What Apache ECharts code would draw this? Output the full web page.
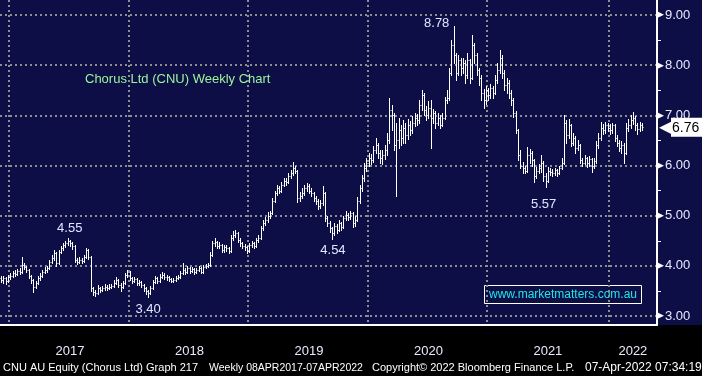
<!DOCTYPE html>
<html>
<head>
<meta charset="utf-8">
<title>Chorus Ltd (CNU) Weekly Chart</title>
<script src="https://cdn.jsdelivr.net/npm/echarts@6/dist/echarts.min.js"></script>
<style>
  html, body { margin: 0; padding: 0; background: #000; }
  #chart { width: 702px; height: 376px; }
</style>
</head>
<body>
<div id="chart"></div>
<script>
// weekly bars, rows are [open, high, low, close]
var bars2016 = [
    [3.76,3.80,3.68,3.72],[3.72,3.79,3.66,3.75],[3.75,3.78,3.64,3.70],[3.70,3.82,3.68,3.78]
];
var bars2017 = [
    [3.78,3.86,3.74,3.80],[3.80,3.90,3.77,3.86],[3.86,3.92,3.80,3.84],[3.84,3.94,3.82,3.90],
    [3.90,3.95,3.84,3.88],[3.88,4.17,3.86,4.02],[4.02,4.06,3.94,3.98],[3.98,4.00,3.88,3.92],
    [3.92,3.94,3.76,3.80],[3.80,3.82,3.66,3.72],[3.72,3.74,3.47,3.58],[3.58,3.70,3.55,3.66],
    [3.66,3.80,3.64,3.75],[3.75,3.86,3.72,3.80],[3.80,3.92,3.78,3.88],[3.88,3.97,3.85,3.92],
    [3.92,4.00,3.88,3.95],[3.95,4.12,3.93,4.08],[4.08,4.22,4.05,4.15],[4.15,4.32,4.12,4.25],
    [4.25,4.28,4.00,4.05],[4.05,4.32,4.03,4.28],[4.28,4.40,4.25,4.35],[4.35,4.46,4.32,4.42],
    [4.42,4.50,4.38,4.46],[4.46,4.55,4.42,4.50],[4.50,4.52,4.40,4.45],[4.45,4.48,4.34,4.40],
    [4.40,4.42,4.08,4.12],[4.12,4.16,4.03,4.08],[4.08,4.17,4.05,4.12],[4.12,4.15,4.06,4.10],
    [4.10,4.22,4.08,4.18],[4.18,4.36,4.15,4.32],[4.32,4.34,4.14,4.18],[4.18,4.20,3.50,3.55],
    [3.55,3.58,3.42,3.48],[3.48,3.52,3.40,3.45],[3.45,3.62,3.43,3.55],[3.55,3.58,3.48,3.52],
    [3.52,3.60,3.50,3.55],[3.55,3.63,3.52,3.58],[3.58,3.62,3.52,3.56],[3.56,3.63,3.53,3.58],
    [3.58,3.64,3.55,3.60],[3.60,3.72,3.58,3.66],[3.66,3.77,3.64,3.72],[3.72,3.74,3.58,3.62],
    [3.62,3.65,3.50,3.58],[3.58,3.70,3.55,3.65],[3.65,3.86,3.63,3.82],[3.82,3.92,3.78,3.88]
];
var bars2018 = [
    [3.88,3.90,3.72,3.76],[3.76,3.78,3.66,3.70],[3.70,3.78,3.67,3.74],[3.74,3.76,3.62,3.66],
    [3.66,3.72,3.62,3.68],[3.68,3.70,3.57,3.62],[3.62,3.64,3.50,3.55],[3.55,3.58,3.44,3.50],
    [3.50,3.52,3.38,3.45],[3.45,3.60,3.43,3.55],[3.55,3.72,3.53,3.68],[3.68,3.80,3.65,3.75],
    [3.75,3.78,3.66,3.70],[3.70,3.83,3.68,3.78],[3.78,3.87,3.75,3.82],[3.82,3.85,3.74,3.78],
    [3.78,3.82,3.72,3.77],[3.77,3.80,3.70,3.74],[3.74,3.76,3.67,3.70],[3.70,3.76,3.68,3.72],
    [3.72,3.80,3.70,3.76],[3.76,3.82,3.73,3.78],[3.78,3.90,3.76,3.85],[3.85,4.05,3.83,3.92],
    [3.92,3.96,3.84,3.88],[3.88,3.99,3.86,3.95],[3.95,3.97,3.86,3.90],[3.90,3.97,3.87,3.93],
    [3.93,3.95,3.84,3.88],[3.88,3.96,3.86,3.92],[3.92,4.00,3.90,3.96],[3.96,3.98,3.85,3.88],
    [3.88,4.02,3.86,3.98],[3.98,4.04,3.95,4.00],[4.00,4.06,3.98,4.02],[4.02,4.28,4.00,4.22],
    [4.22,4.50,4.20,4.45],[4.45,4.55,4.40,4.48],[4.48,4.50,4.35,4.40],[4.40,4.47,4.36,4.42],
    [4.42,4.44,4.27,4.32],[4.32,4.42,4.28,4.38],[4.38,4.42,4.30,4.36],[4.36,4.38,4.25,4.30],
    [4.30,4.62,4.28,4.55],[4.55,4.70,4.52,4.62],[4.62,4.72,4.58,4.65],[4.65,4.67,4.48,4.52],
    [4.52,4.55,4.40,4.45],[4.45,4.48,4.35,4.40],[4.40,4.44,4.32,4.38],[4.38,4.40,4.26,4.30]
];
var bars2019 = [
    [4.30,4.46,4.28,4.42],[4.42,4.50,4.38,4.45],[4.45,4.48,4.35,4.40],[4.40,4.56,4.38,4.52],
    [4.52,4.62,4.48,4.55],[4.55,4.80,4.53,4.75],[4.75,4.92,4.72,4.85],[4.85,4.98,4.82,4.92],
    [4.92,5.08,4.88,5.00],[5.00,5.10,4.96,5.05],[5.05,5.36,5.03,5.30],[5.30,5.50,5.27,5.45],
    [5.45,5.62,5.42,5.55],[5.55,5.60,5.45,5.50],[5.50,5.68,5.48,5.62],[5.62,5.76,5.60,5.70],
    [5.70,5.75,5.62,5.68],[5.68,5.85,5.66,5.80],[5.80,5.92,5.76,5.85],[5.85,6.07,5.82,5.95],
    [5.95,6.00,5.85,5.90],[5.90,5.92,5.28,5.35],[5.35,5.48,5.30,5.40],[5.40,5.55,5.36,5.45],
    [5.45,5.62,5.42,5.55],[5.55,5.66,5.50,5.60],[5.60,5.63,5.45,5.50],[5.50,5.55,5.40,5.45],
    [5.45,5.48,5.30,5.35],[5.35,5.40,5.24,5.30],[5.30,5.33,5.14,5.20],[5.20,5.32,5.16,5.25],
    [5.25,5.60,5.22,5.45],[5.45,5.47,4.90,4.95],[4.95,5.00,4.80,4.85],[4.85,4.90,4.68,4.75],
    [4.75,4.78,4.54,4.65],[4.65,4.86,4.62,4.80],[4.80,4.84,4.66,4.72],[4.72,4.92,4.70,4.85],
    [4.85,4.88,4.72,4.78],[4.78,5.00,4.76,4.95],[4.95,5.10,4.92,5.02],[5.02,5.06,4.92,4.98],
    [4.98,5.10,4.94,5.05],[5.05,5.07,4.78,4.85],[4.85,5.00,4.80,4.92],[4.92,5.38,4.90,5.30],
    [5.30,5.62,5.26,5.55],[5.55,5.82,5.50,5.75],[5.75,6.05,5.70,5.95],[5.95,6.15,5.90,6.05]
];
var bars2020 = [
    [6.05,6.25,6.00,6.15],[6.15,6.22,6.02,6.10],[6.10,6.38,6.06,6.30],[6.30,6.55,6.25,6.40],
    [6.40,6.45,6.15,6.25],[6.25,6.30,6.05,6.15],[6.15,6.30,6.02,6.20],[6.20,6.40,6.12,6.30],
    [6.30,6.65,6.20,6.50],[6.50,7.35,6.45,7.10],[7.10,7.20,6.70,7.00],[7.00,7.05,6.30,6.40],
    [6.40,6.85,5.40,6.50],[6.50,6.95,6.35,6.70],[6.70,6.80,6.40,6.55],[6.55,6.90,6.45,6.75],
    [6.75,6.85,6.45,6.60],[6.60,6.92,6.52,6.80],[6.80,6.88,6.60,6.70],[6.70,6.98,6.65,6.85],
    [6.85,7.05,6.78,6.95],[6.95,7.02,6.80,6.90],[6.90,7.30,6.85,7.20],[7.20,7.50,7.10,7.40],
    [7.40,7.45,7.00,7.10],[7.10,7.18,6.90,7.00],[7.00,7.28,6.95,7.15],[7.15,7.30,6.35,6.95],
    [6.95,7.12,6.85,7.05],[7.05,7.08,6.75,6.85],[6.85,7.05,6.80,6.95],[6.95,7.00,6.75,6.80],
    [6.80,7.05,6.78,6.95],[6.95,7.36,6.92,7.30],[7.30,7.50,7.25,7.35],[7.35,7.95,7.30,7.85],
    [7.85,8.50,7.80,8.40],[8.40,8.78,8.05,8.20],[8.20,8.25,7.70,7.85],[7.85,8.20,7.80,8.10],
    [8.10,8.15,7.80,7.95],[7.95,8.15,7.85,8.05],[8.05,8.10,7.65,7.80],[7.80,8.25,7.75,8.10],
    [8.10,8.12,7.65,7.75],[7.75,8.60,7.72,8.40],[8.40,8.45,8.05,8.20],[8.20,8.25,7.80,7.90],
    [7.90,7.95,7.60,7.75],[7.75,7.80,7.30,7.45],[7.45,7.52,7.15,7.30],[7.30,7.58,7.22,7.50]
];
var bars2021 = [
    [7.50,7.55,7.30,7.40],[7.40,7.62,7.35,7.55],[7.55,7.58,7.35,7.45],[7.45,7.80,7.42,7.70],
    [7.70,8.05,7.65,7.90],[7.90,8.30,7.85,8.15],[8.15,8.20,7.75,7.85],[7.85,7.90,7.50,7.60],
    [7.60,7.75,7.45,7.65],[7.65,7.70,7.35,7.45],[7.45,7.50,7.20,7.30],[7.30,7.35,6.97,7.05],
    [7.05,7.08,6.65,6.70],[6.70,6.72,6.10,6.20],[6.20,6.30,5.95,6.00],[6.00,6.07,5.85,5.95],
    [5.95,6.00,5.85,5.90],[5.90,6.37,5.88,6.20],[6.20,6.32,6.05,6.25],[6.25,6.28,6.00,6.10],
    [6.10,6.12,5.67,5.80],[5.80,5.97,5.75,5.90],[5.90,6.02,5.85,5.95],[5.95,6.20,5.88,6.05],
    [6.05,6.08,5.70,5.80],[5.80,5.85,5.57,5.70],[5.70,5.97,5.68,5.90],[5.90,5.95,5.82,5.88],
    [5.88,5.93,5.80,5.85],[5.85,5.96,5.82,5.92],[5.92,5.94,5.80,5.85],[5.85,6.00,5.83,5.95],
    [5.95,6.15,5.93,6.05],[6.05,7.00,6.02,6.85],[6.85,6.90,6.45,6.60],[6.60,6.92,6.55,6.80],
    [6.80,6.82,6.38,6.45],[6.45,6.65,6.40,6.55],[6.55,6.58,6.25,6.35],[6.35,6.50,6.30,6.40],
    [6.40,6.42,6.05,6.10],[6.10,6.15,6.00,6.05],[6.05,6.20,6.02,6.15],[6.15,6.17,5.98,6.05],
    [6.05,6.18,6.00,6.12],[6.12,6.14,5.88,6.00],[6.00,6.15,5.95,6.08],[6.08,6.48,6.05,6.40],
    [6.40,6.65,6.35,6.55],[6.55,6.87,6.50,6.75],[6.75,6.82,6.62,6.70],[6.70,6.87,6.65,6.80],
    [6.80,6.85,6.68,6.75]
];
var bars2022 = [
    [6.75,6.82,6.62,6.70],[6.70,6.85,6.65,6.80],[6.80,6.82,6.48,6.55],[6.55,6.60,6.38,6.45],
    [6.45,6.50,6.28,6.35],[6.35,6.48,6.25,6.40],[6.40,6.45,6.05,6.25],[6.25,6.85,6.22,6.75],
    [6.75,6.92,6.68,6.80],[6.80,7.00,6.75,6.90],[6.90,7.07,6.82,6.95],[6.95,6.98,6.70,6.80],
    [6.80,6.85,6.62,6.72],[6.72,6.86,6.68,6.80],[6.80,6.84,6.70,6.76]
];

// weekly categories (Fridays), a few empty weeks after the last bar
var weekCount = 286;
var weeks = [];
for (var k = 0; k < weekCount; k++) {
    weeks.push(new Date(Date.UTC(2016, 11, 9) + k * 7 * 864e5).toISOString().slice(0, 10));
}

var priceTicks = { min: 3, max: 9, step: 1 };

// callouts: [week index, price]
var callouts = [[29, 4.55], [64, 3.40], [144, 4.54], [197, 8.78], [237, 5.57]];
var calloutOffsets = [[2, -10], [0, 13], [1, 12], [-17, -3], [-2, 17]];

var footerParts = [
    "CNU AU Equity (Chorus Ltd) Graph 217",
    "Weekly 08APR2017-07APR2022",
    "Copyright\u00A9 2022 Bloomberg Finance L.P.",
    "07-Apr-2022 07:34:19"
];

var allBars = [].concat(bars2016, bars2017, bars2018, bars2019, bars2020, bars2021, bars2022);
var seriesData = allBars.map(function (b, i) { return [i, b[0], b[1], b[2], b[3]]; });
var lastClose = allBars[allBars.length - 1][3];

function yearOf(i) { return weeks[i].slice(0, 4); }
function isYearStart(i) { return i > 0 && yearOf(i) !== yearOf(i - 1); }
function isQuarterStart(i) {
    if (i === 0) return false;
    var m = weeks[i].slice(5, 7);
    return m !== weeks[i - 1].slice(5, 7) && (m === "01" || m === "04" || m === "07" || m === "10");
}
// label each year in the middle of its visible weeks
var yearMid = {};
(function () {
    var ranges = {};
    weeks.forEach(function (w, i) {
        var y = w.slice(0, 4);
        if (!ranges[y]) ranges[y] = [i, i];
        ranges[y][1] = i;
    });
    for (var y in ranges) {
        if (y === "2016") continue;
        yearMid[Math.round((ranges[y][0] + ranges[y][1]) / 2)] = y;
    }
})();

var FONT = "Liberation Sans";
var NAVY = "#0e0e47";
var dotted = { color: "#8e8e8e", width: 2, type: [2, 3] };

function renderBar(params, api) {
    var i = api.value(0);
    var o = api.coord([i, api.value(1)]);
    var h = api.coord([i, api.value(2)]);
    var l = api.coord([i, api.value(3)]);
    var c = api.coord([i, api.value(4)]);
    var x = Math.round(h[0]) + 0.5;
    var w = Math.max(1, Math.round(api.size([1, 0])[0] * 0.5));
    var st = { stroke: "#ffffff", lineWidth: 1 };
    var oy = Math.round(o[1]) + 0.5, cy = Math.round(c[1]) + 0.5;
    return {
        type: "group",
        children: [
            { type: "line", shape: { x1: x, y1: Math.round(h[1]), x2: x, y2: Math.round(l[1]) + 1 }, style: st },
            { type: "line", shape: { x1: x - w, y1: oy, x2: x, y2: oy }, style: st },
            { type: "line", shape: { x1: x, y1: cy, x2: x + w, y2: cy }, style: st }
        ]
    };
}

function footerText(x, text, size) {
    return { type: "text", x: x, y: 368, style: { text: text, fill: "#ffffff", font: size + "px " + FONT, verticalAlign: "middle" } };
}

var chart = echarts.init(document.getElementById("chart"));
var option = {
    backgroundColor: "#000",
    animation: false,
    grid: [
        { left: 0, right: 45, top: 0, bottom: 51 },
        { left: 0, right: 45, top: 15, bottom: 60 }
    ],
    xAxis: [{
        type: "category", gridIndex: 0, data: weeks, boundaryGap: true,
        axisLine: { lineStyle: { color: "#ffffff", width: 2 } },
        axisTick: { interval: function (i) { return isQuarterStart(i); }, length: 4, lineStyle: { color: "#ffffff" } },
        axisLabel: {
            interval: function (i) { return !!yearMid[i]; },
            formatter: function (v, i) { return yearMid[i] || ""; },
            color: "#e8ebff", fontSize: 13, fontFamily: FONT, margin: 20
        },
        splitLine: { show: true, interval: function (i) { return isYearStart(i); }, lineStyle: dotted }
    }, {
        type: "category", gridIndex: 0, data: weeks, boundaryGap: true, position: "bottom",
        axisLine: { show: false },
        axisTick: { interval: function (i) { return isYearStart(i); }, length: 33, lineStyle: { color: "#9a9a9a" } },
        axisLabel: { show: false },
        splitLine: { show: false }
    }, {
        type: "category", gridIndex: 1, data: weeks, boundaryGap: true, show: false
    }],
    yAxis: [{
        type: "value", gridIndex: 0, min: 0, max: 1, position: "right",
        axisLine: { show: true, lineStyle: { color: "#ffffff", width: 2 } },
        axisTick: { show: false }, axisLabel: { show: false }, splitLine: { show: false }
    }, {
        type: "value", gridIndex: 1, position: "right",
        min: priceTicks.min, max: priceTicks.max, interval: priceTicks.step,
        axisLine: { show: false },
        axisTick: { show: false },
        minorTick: { show: true, splitNumber: 2, length: 4, lineStyle: { color: "#ffffff" } },
        splitLine: { show: true, lineStyle: dotted },
        axisLabel: {
            margin: 0,
            formatter: function (v) { return "{t|\u25B6}{v|" + v.toFixed(2) + "}"; },
            rich: {
                t: { color: "#ffffff", fontSize: 9, padding: [0, 1, 0, 0] },
                v: { color: "#e8ebff", fontSize: 13, fontFamily: FONT }
            }
        }
    }],
    series: [{
        type: "custom",
        xAxisIndex: 2, yAxisIndex: 1,
        renderItem: renderBar,
        encode: { x: 0, y: [1, 2, 3, 4] },
        clip: false,
        data: seriesData,
        markPoint: {
            symbol: "circle", symbolSize: 0, silent: true,
            label: { show: true, color: "#dfe8ff", fontSize: 13, fontFamily: FONT },
            data: callouts.map(function (c, n) {
                return { coord: [c[0], c[1]], value: c[1].toFixed(2), label: { offset: calloutOffsets[n] } };
            })
        },
        markLine: {
            symbol: "none", silent: true,
            lineStyle: { color: "rgba(0,0,0,0)", width: 1, type: "solid" },
            label: {
                show: true, position: "end", distance: 2,
                formatter: function (p) { return "{a|\u25C0}{b|" + Number(p.value).toFixed(2) + "}"; },
                rich: {
                    a: { color: "#ffffff", fontSize: 16, lineHeight: 18 },
                    b: { backgroundColor: "#ffffff", color: "#000000", fontSize: 14, fontFamily: FONT, padding: [3, 12, 2, 1], lineHeight: 13 }
                }
            },
            data: [{ yAxis: lastClose }]
        }
    }],
    graphic: [
        { type: "rect", z: -100, silent: true, shape: { x: 0, y: 0, width: 702, height: 325 }, style: { fill: NAVY } },
        { type: "text", left: 85, top: 73, style: { text: "Chorus Ltd (CNU) Weekly Chart", fill: "#9cf59c", font: "13px " + FONT } },
        { type: "rect", shape: { x: 484.5, y: 285.5, width: 157, height: 18 }, style: { fill: "none", stroke: "#ffffff", lineWidth: 1 } },
        { type: "text", x: 563, y: 295, style: { text: "www.marketmatters.com.au", fill: "#1ee6e6", font: "12px " + FONT, align: "center", verticalAlign: "middle" } },
        footerText(3, footerParts[0], 11),
        footerText(209, footerParts[1], 10.5),
        footerText(372, footerParts[2], 11),
        footerText(585, footerParts[3], 12)
    ]
};
chart.setOption(option);
</script>
</body>
</html>
